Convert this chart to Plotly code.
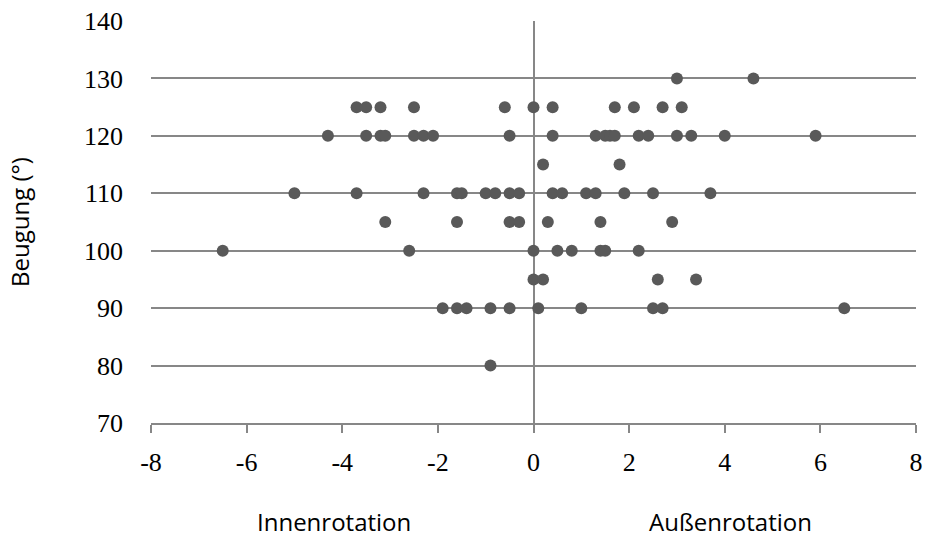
import plotly.graph_objects as go

# Data (x = rotation, y = Beugung)
rot_130 = [3.0, 4.6]
rot_125 = [-3.7, -3.5, -3.2, -2.5, -0.6, 0.0, 0.4, 1.7, 2.1, 2.7, 3.1]
rot_120 = [-4.3, -3.5, -3.2, -3.1, -2.5, -2.3, -2.1, -0.5, 0.4, 1.3, 1.5, 1.6, 1.7, 2.2, 2.4, 3.0, 3.3, 4.0, 5.9]
rot_115 = [0.2, 1.8]
rot_110 = [-5.0, -3.7, -2.3, -1.6, -1.5, -1.0, -0.8, -0.5, -0.3, 0.4, 0.6, 1.1, 1.3, 1.9, 2.5, 3.7]
rot_105 = [-3.1, -1.6, -0.5, -0.3, 0.3, 1.4, 2.9]
rot_100 = [-6.5, -2.6, 0.0, 0.5, 0.8, 1.4, 1.5, 2.2]
rot_95 = [0.0, 0.2, 2.6, 3.4]
rot_90 = [-1.9, -1.6, -1.4, -0.9, -0.5, 0.1, 1.0, 2.5, 2.7, 6.5]
rot_80 = [-0.9]

groups = [(130, rot_130), (125, rot_125), (120, rot_120), (115, rot_115), (110, rot_110),
          (105, rot_105), (100, rot_100), (95, rot_95), (90, rot_90), (80, rot_80)]

x_vals, y_vals = [], []
for b, xs in groups:
    for v in xs:
        x_vals.append(v)
        y_vals.append(b)

x_ticks = [-8, -6, -4, -2, 0, 2, 4, 6, 8]
x_tick_labels = ["-8", "-6", "-4", "-2", "0", "2", "4", "6", "8"]
y_ticks = [70, 80, 90, 100, 110, 120, 130, 140]
y_tick_labels = ["70", "80", "90", "100", "110", "120", "130", "140"]
x_title_left = "Innenrotation"
x_title_right = "Außenrotation"
y_title = "Beugung (°)"

GRID = "#878787"
MARK = "#595959"
TICKFONT = dict(family="Liberation Serif", size=26, color="#000000")
TITLEFONT = dict(family="Open Sans", size=24, color="#000000")

fig = go.Figure()
fig.add_trace(go.Scatter(x=x_vals, y=y_vals, mode="markers",
                         marker=dict(color=MARK, size=12, line=dict(width=0)),
                         showlegend=False, cliponaxis=False))

fig.update_xaxes(range=[-8, 8], tickvals=x_ticks, ticktext=x_tick_labels, showgrid=False,
                 zeroline=True, zerolinecolor=GRID, zerolinewidth=2,
                 showline=True, linecolor=GRID, linewidth=2,
                 ticks="outside", ticklen=8, tickcolor=GRID, tickwidth=2,
                 ticklabelstandoff=7, automargin=False, tickfont=TICKFONT)
fig.update_yaxes(range=[70, 140], tickvals=y_ticks, ticktext=y_tick_labels, showgrid=True,
                 gridcolor=GRID, gridwidth=2, zeroline=False, showline=False,
                 ticks="", ticklabelstandoff=27, automargin=False, tickfont=TICKFONT)

fig.add_annotation(text=x_title_left, xref="x", yref="paper", x=-4.18, y=-0.289,
                   showarrow=False, yanchor="bottom", borderpad=0, font=TITLEFONT)
fig.add_annotation(text=x_title_right, xref="x", yref="paper", x=4.13, y=-0.289,
                   showarrow=False, yanchor="bottom", borderpad=0, font=TITLEFONT)
fig.add_annotation(text=y_title, xref="paper", yref="paper", x=-0.1725, y=0.5,
                   textangle=-90, showarrow=False, xanchor="center", yanchor="middle",
                   font=TITLEFONT)

fig.update_layout(width=927, height=540, margin=dict(l=151, r=11, t=21, b=117),
                  plot_bgcolor="white", paper_bgcolor="white")

fig.write_html("out.html", config={"displayModeBar": False},
               post_script="document.body.style.margin='0';")
